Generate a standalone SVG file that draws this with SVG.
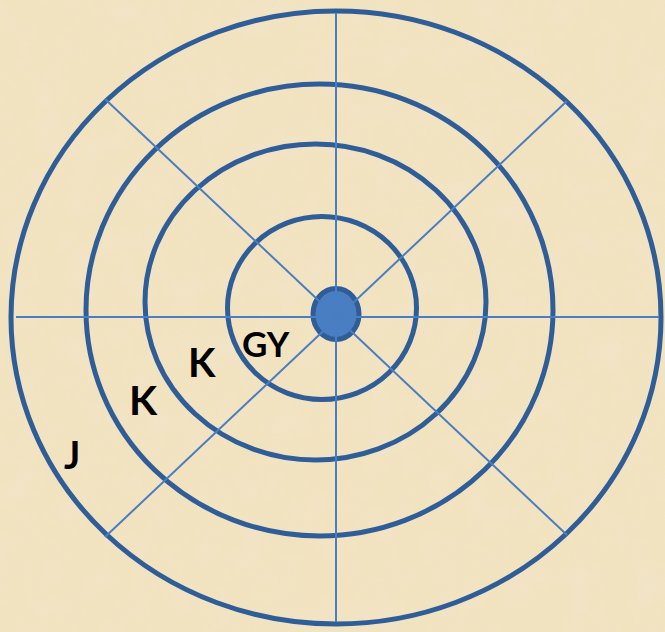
<svg xmlns="http://www.w3.org/2000/svg" width="665" height="632" viewBox="0 0 665 632">
  <defs>
    <filter id="parch" x="0" y="0" width="100%" height="100%">
      <feTurbulence type="fractalNoise" baseFrequency="0.03" numOctaves="4" seed="7" result="n"/>
      <feColorMatrix in="n" type="matrix" values="0 0 0 0 0.88  0 0 0 0 0.78  0 0 0 0 0.60  0 0 0 -1.6 0.95" result="c"/>
      <feComposite in="c" in2="SourceGraphic" operator="in"/>
    </filter>
    <style>
      .ring { fill: none; stroke: #2f5d98; stroke-width: 5; }
      .ray { stroke: #4a7dc2; stroke-width: 2; fill: none; }
      .lbl { font-family: Lato, "Open Sans", "Liberation Sans", sans-serif; font-weight: 700; fill: #000; }
    </style>
  </defs>
  <rect width="665" height="632" fill="#f2e3c0"/>
  <rect width="665" height="632" fill="#f2e3c0" filter="url(#parch)" opacity="0.7"/>

  <g id="rings">
    <ellipse id="ring-outer" class="ring" cx="336" cy="317.5" rx="325" ry="306.5"/>
    <ellipse id="ring-2" class="ring" cx="319.5" cy="310" rx="233.5" ry="226"/>
    <ellipse id="ring-3" class="ring" cx="315.5" cy="302" rx="170.5" ry="158"/>
    <ellipse id="ring-4" class="ring" cx="322" cy="308" rx="94.5" ry="91.5"/>
  </g>

  <g id="center-dot">
    <ellipse cx="336" cy="314" rx="23" ry="25.5" fill="#4a7ec3" stroke="#2f5d98" stroke-width="5"/>
  </g>

  <g id="connectors">
    <line class="ray" x1="16" y1="317" x2="659" y2="317"/>
    <line class="ray" x1="336" y1="13" x2="336" y2="622"/>
    <line class="ray" x1="105" y1="99" x2="567" y2="535"/>
    <line class="ray" x1="567" y1="101" x2="105" y2="537"/>
  </g>

  <g id="labels">
    <text class="lbl" x="242" y="357" font-size="35">GY</text>
    <text class="lbl" x="188" y="377" font-size="40">K</text>
    <text class="lbl" x="129" y="415" font-size="41">K</text>
    <text class="lbl" x="64" y="469" font-size="38">J</text>
  </g>
</svg>
